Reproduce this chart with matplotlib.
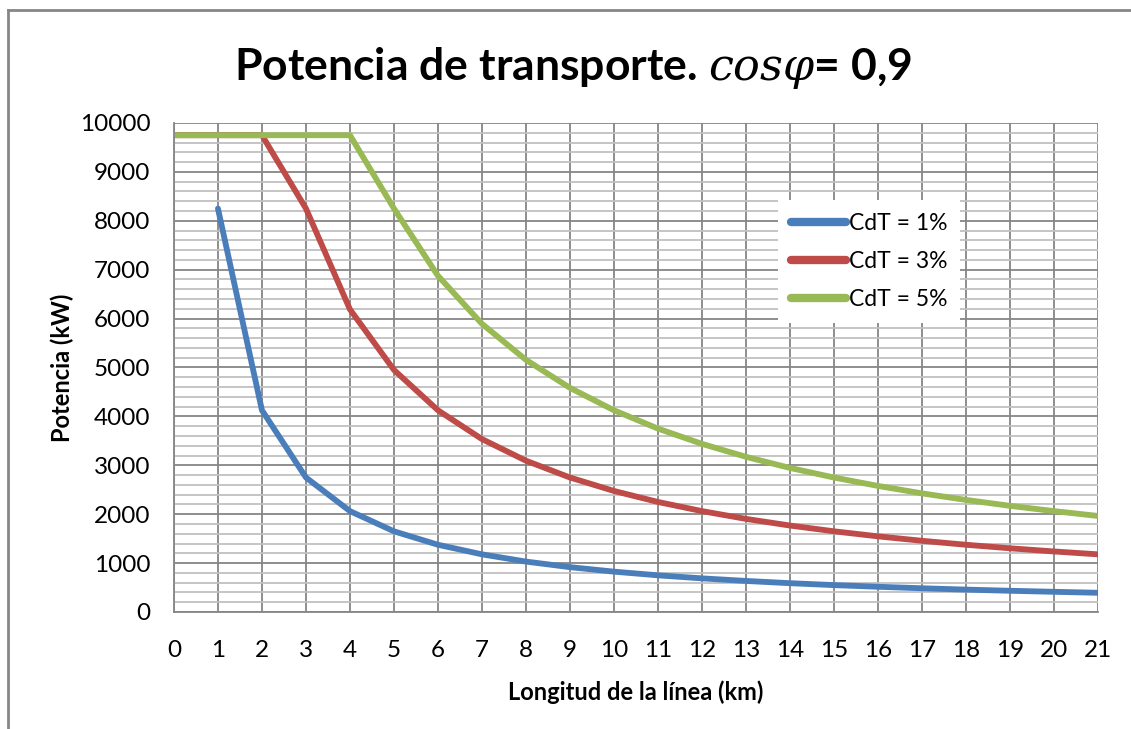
import matplotlib
matplotlib.use("Agg")
import matplotlib.pyplot as plt
from matplotlib.lines import Line2D
import numpy as np

# longitud de la linea (km)
longitud = list(range(0, 22))

# potencia (kW)
cdt_1 = [np.nan, 8250, 4125, 2750, 2063, 1650, 1375, 1179, 1031, 917, 825,
         750, 688, 635, 589, 550, 516, 485, 458, 434, 413, 393]
cdt_3 = [9750, 9750, 9750, 8250, 6188, 4950, 4125, 3536, 3094, 2750, 2475,
         2250, 2063, 1904, 1768, 1650, 1547, 1456, 1375, 1303, 1238, 1179]
cdt_5 = [9750, 9750, 9750, 9750, 9750, 8250, 6875, 5893, 5156, 4583, 4125,
         3750, 3438, 3173, 2946, 2750, 2578, 2426, 2292, 2171, 2063, 1964]

labels = ["CdT = 1%", "CdT = 3%", "CdT = 5%"]
colors = ["#4a7ebb", "#be4b48", "#98b954"]

plt.rcParams['font.family'] = ['Lato', 'DejaVu Sans']
plt.rcParams['mathtext.fontset'] = 'custom'
plt.rcParams['mathtext.it'] = 'DejaVu Serif:italic'
plt.rcParams['mathtext.rm'] = 'DejaVu Serif'

fig = plt.figure(figsize=(11.31, 7.29), dpi=100)
ax = fig.add_axes([0.1538, 0.1605, 0.817, 0.6708])

for y, lab, c in zip([cdt_1, cdt_3, cdt_5], labels, colors):
    ax.plot(longitud, y, color=c, lw=4.2, label=lab, solid_capstyle='round')

ax.set_xlim(0, 21)
ax.set_ylim(0, 10000)
ax.set_xticks(range(0, 22))
ax.set_yticks(range(0, 10001, 1000))
ax.set_yticks(range(0, 10001, 200), minor=True)
ax.grid(which='major', color='#868686', lw=1.3)
ax.grid(which='minor', axis='y', color='#c0c0c0', lw=1.3)
ax.set_axisbelow(True)
ax.tick_params(which='both', length=0, labelsize=17.5)
ax.tick_params(axis='x', pad=20)
ax.tick_params(axis='y', pad=17)
for s in ['top', 'right']:
    ax.spines[s].set_visible(False)
for s in ['left', 'bottom']:
    ax.spines[s].set_color('#868686')
    ax.spines[s].set_linewidth(1.3)

ax.set_xlabel("Longitud de la línea (km)", fontsize=17, fontweight='bold', labelpad=14)
ax.set_ylabel("Potencia (kW)", fontsize=17, fontweight='bold', labelpad=4)

fig.text(0.507, 0.907, r"Potencia de transporte. $cos\varphi$= 0,9",
         ha='center', va='center', fontsize=32, fontweight='bold')

leg = ax.legend(loc='upper left', bbox_to_anchor=(0.654, 0.8425), fontsize=16.5,
                frameon=True, fancybox=False, edgecolor='none', framealpha=1,
                handlelength=2.4, handletextpad=0.15, labelspacing=0.75,
                borderpad=0.55, borderaxespad=0)
for h in leg.get_lines():
    h.set_linewidth(6)

# borde del area del grafico
fig.add_artist(Line2D([8 / 1131, 8 / 1131], [0, 1 - 10 / 729], color='#868686', lw=2))
fig.add_artist(Line2D([8 / 1131, 1], [1 - 10 / 729, 1 - 10 / 729], color='#868686', lw=2))

fig.savefig("out.png", dpi=100)
